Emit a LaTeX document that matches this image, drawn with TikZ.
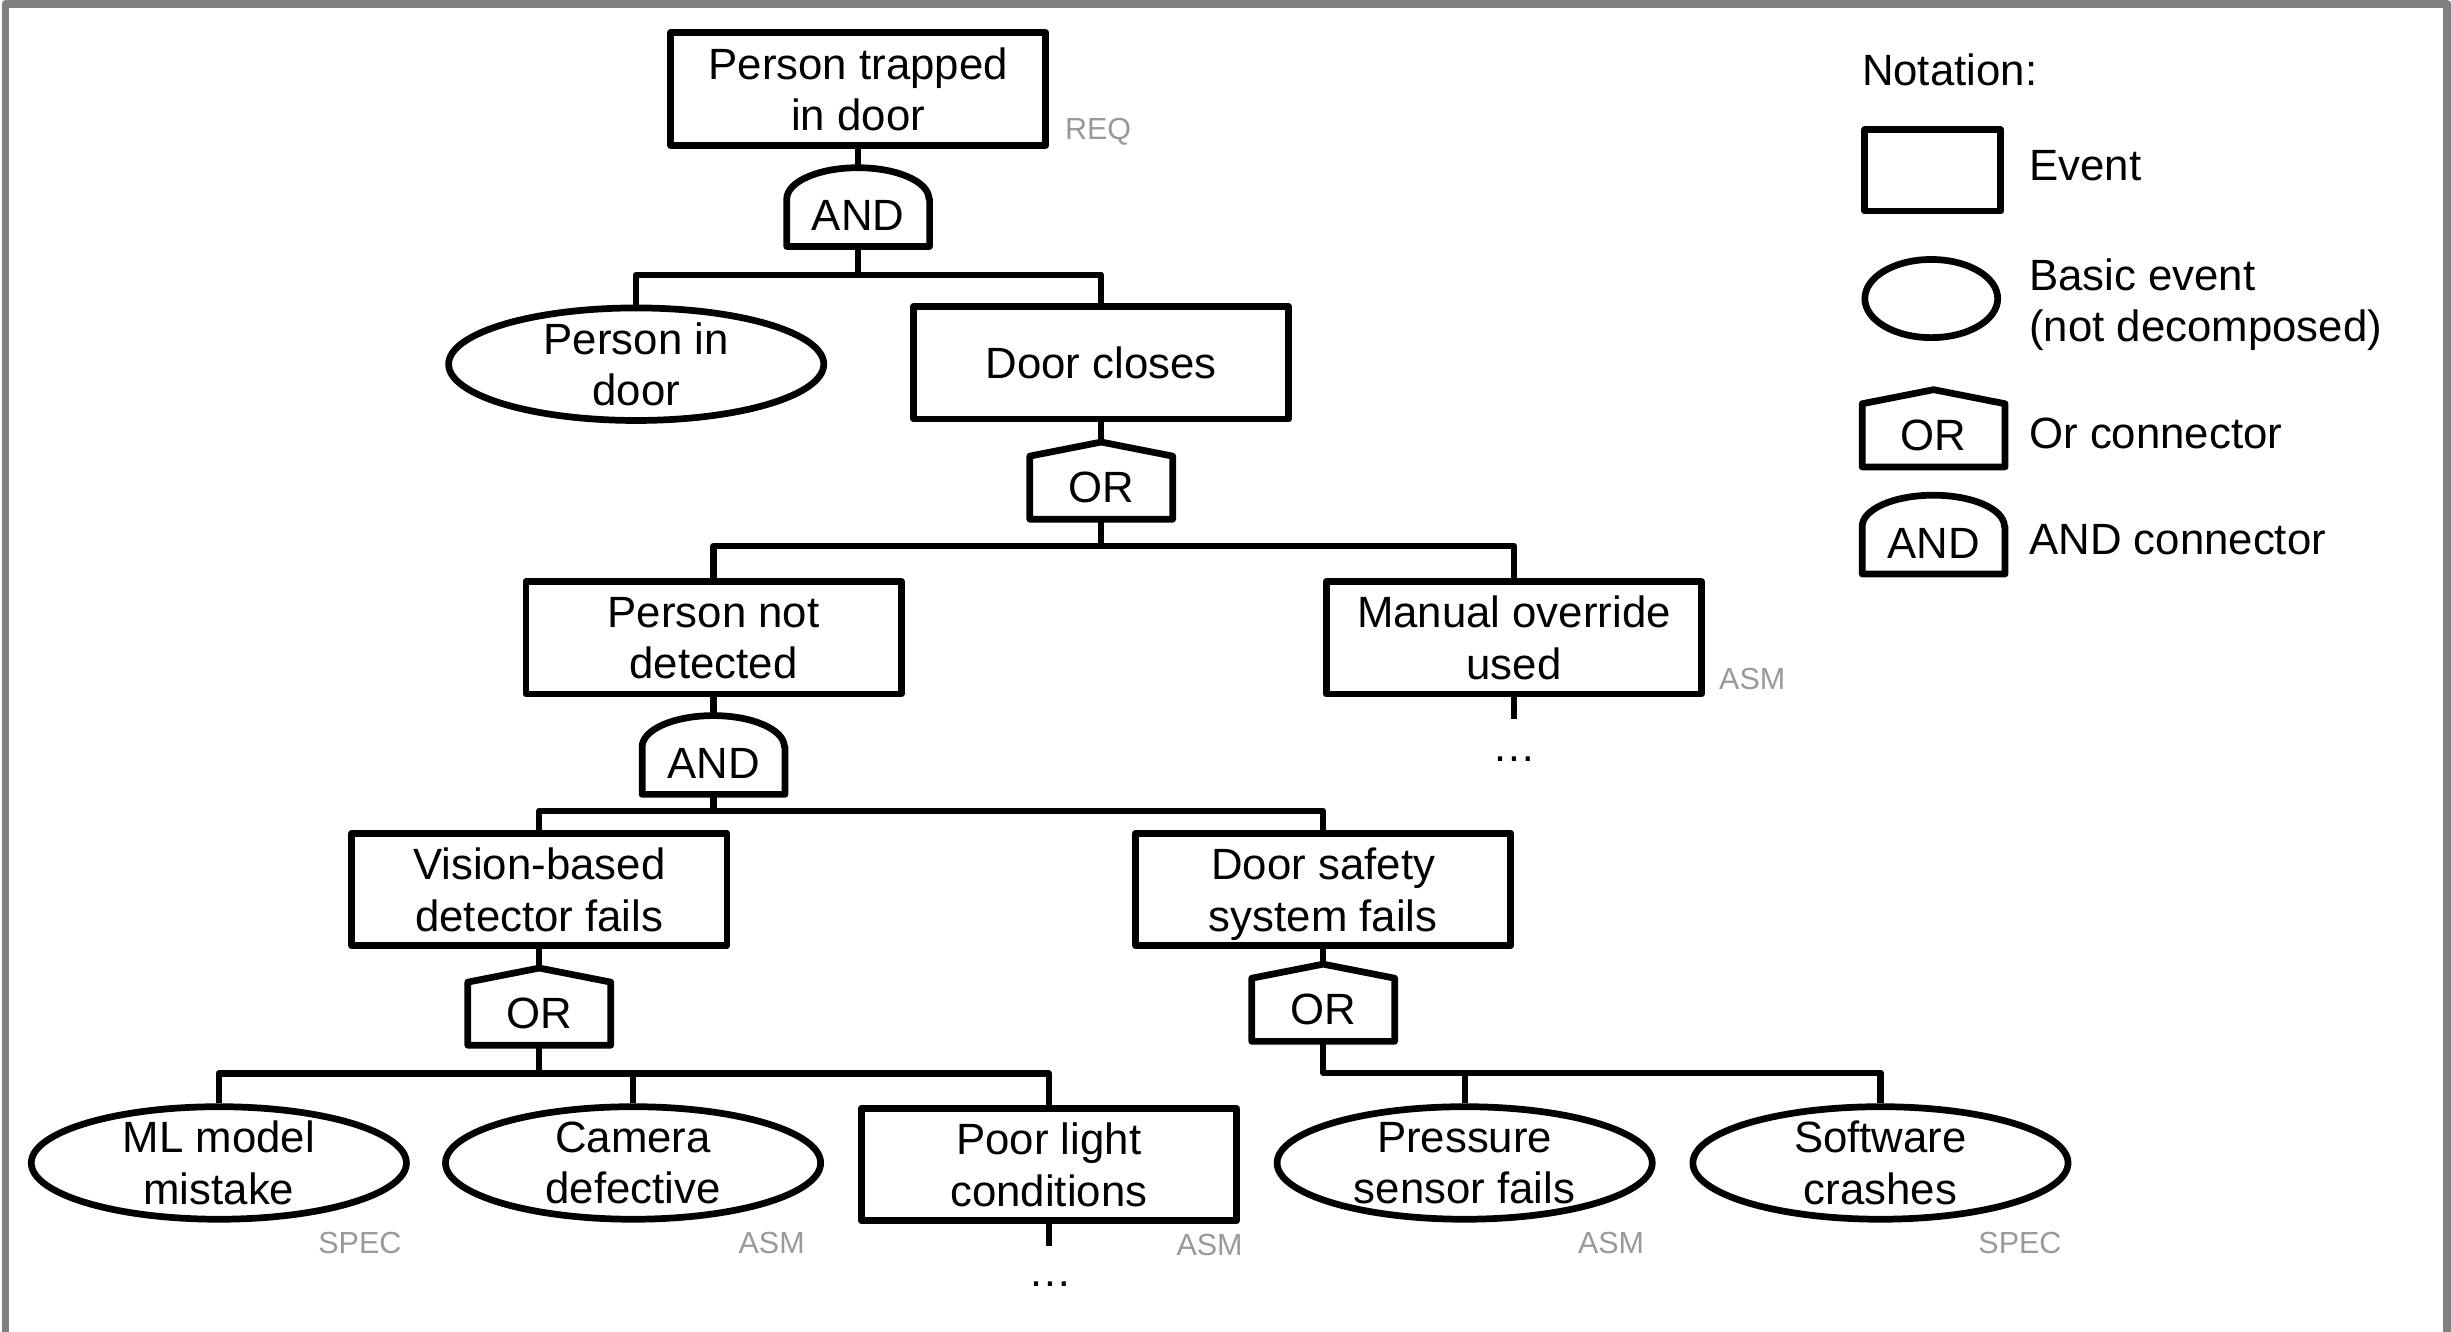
\documentclass[tikz,border=0pt]{standalone}
\usepackage{fontspec}
\setmainfont{Liberation Sans}
\usetikzlibrary{shapes.geometric}
\definecolor{framegray}{HTML}{808080}
\definecolor{taggray}{HTML}{999999}

\begin{document}
\begin{tikzpicture}[x=1pt,y=1pt,
      font=\fontsize{28}{33}\selectfont,
      line join=round,
      event/.style={draw,line width=4.3pt,rectangle,minimum width=240pt,
        minimum height=72pt,inner sep=0pt,align=center,text depth=0pt},
      basic/.style={draw,line width=4.3pt,ellipse,minimum width=240pt,
        minimum height=72pt,inner sep=-10pt,align=center},
      orgate/.style={rectangle,minimum width=91pt,minimum height=40pt,inner sep=0pt},
      andgate/.style={rectangle,minimum width=91pt,minimum height=30pt,inner sep=0pt,
        text depth=9pt},
      gateline/.style={line width=4.3pt},
      conn/.style={line width=4pt},
      tag/.style={text=taggray,font=\fontsize{19.5}{23}\selectfont,inner sep=0pt},
      keytext/.style={anchor=west,inner sep=0pt,align=left}]
      \useasboundingbox (0,0) rectangle (1568,852);
      \draw[framegray,line width=5pt] (3.5,0) -- (3.5,849.5) -- (1565.5,849.5) -- (1565.5,0);

      % tree
      \node[event] (top) at (549,795) {Person trapped\\in door};
      \node[andgate] (and1) at (549,709.5) {AND};
      \node[basic] (pid) at (407,619) {Person in\\door};
      \node[event] (dc) at (704.5,620) {Door closes};
      \node[orgate] (or1) at (704.5,540) {OR};
      \node[event] (pnd) at (456.5,444) {Person not\\detected};
      \node[event] (mou) at (968.5,444) {Manual override\\used};
      \node[andgate] (and2) at (456.5,359) {AND};
      \node[event] (vbd) at (345,283) {Vision-based\\detector fails};
      \node[event] (dss) at (846.5,283) {Door safety\\system fails};
      \node[orgate] (or2) at (345,203.5) {OR};
      \node[orgate] (or3) at (846.5,206) {OR};
      \node[basic] (ml) at (140,108) {ML model\\mistake};
      \node[basic] (cam) at (405,108) {Camera\\defective};
      \node[event] (plc) at (671,107) {Poor light\\conditions};
      \node[basic] (pse) at (937,108) {Pressure\\sensor fails};
      \node[basic] (swc) at (1203,108) {Software\\crashes};

      % tags
      \node[tag,anchor=base west] (treq) at ([shift={(10,6)}]top.south east) {REQ};
      \node[tag,anchor=base west] (tmou) at ([shift={(9,5)}]mou.south east) {ASM};
      \node[tag,anchor=base east] (tml) at ([shift={(117,-20)}]ml.south) {SPEC};
      \node[tag,anchor=base east] (tcam) at ([shift={(110,-20)}]cam.south) {ASM};
      \node[tag,anchor=base east] (tplc) at ([shift={(2,-20)}]plc.south east) {ASM};
      \node[tag,anchor=base east] (tpse) at ([shift={(115,-20)}]pse.south) {ASM};
      \node[tag,anchor=base east] (tswc) at ([shift={(116,-20)}]swc.south) {SPEC};

      % notation
      \node[anchor=base west,inner sep=0pt] (nhead) at (1191,797) {Notation:};
      \node[event,minimum width=87pt,minimum height=52pt] (kev) at (1236.5,743) {};
      \node[keytext] (lev) at (1298,746) {Event};
      \node[basic,minimum width=85pt,minimum height=50pt] (kbas) at (1235.5,661) {};
      \node[keytext] (lbas) at (1298,657) {Basic event\\(not decomposed)};
      \node[orgate] (kor) at (1237,573.5) {OR};
      \node[keytext] (lor) at (1298,575) {Or connector};
      \node[andgate] (kand) at (1237,500) {AND};
      \node[keytext] (land) at (1298,507) {AND connector};

      % gates
      \foreach \g in {or1,or2,or3,kor}
        \draw[gateline] (\g.south west) -- (\g.north west) -- ([yshift=9]\g.north)
          -- (\g.north east) -- (\g.south east) -- cycle;
      \foreach \g in {and1,and2,kand}
        \draw[gateline] (\g.north east) -- (\g.south east) -- (\g.south west) -- (\g.north west)
          arc[start angle=180,end angle=0,x radius=45.5,y radius=20] -- cycle;

      % connectors
      \draw[conn] (top.south) -- ([yshift=20]and1.north);
      \draw[conn] (and1.south) -- ++(0,-18) coordinate (b1) -| (pid.north);
      \draw[conn] (b1) -| (dc.north);
      \draw[conn] (dc.south) -- ([yshift=9]or1.north);
      \draw[conn] (or1.south) -- ++(0,-17) coordinate (b2) -| (pnd.north);
      \draw[conn] (b2) -| (mou.north);
      \draw[conn] (pnd.south) -- ([yshift=20]and2.north);
      \draw[conn] (and2.south) -- ++(0,-10.5) coordinate (b3) -| (vbd.north);
      \draw[conn] (b3) -| (dss.north);
      \draw[conn] (vbd.south) -- ([yshift=9]or2.north);
      \draw[conn] (dss.south) -- ([yshift=9]or3.north);
      \draw[conn] (or2.south) -- ++(0,-18) coordinate (b4) -| (ml.north);
      \draw[conn] (b4) -| (cam.north);
      \draw[conn] (b4) -| (plc.north);
      \draw[conn] (or3.south) -- ++(0,-20) coordinate (b5) -| (pse.north);
      \draw[conn] (b5) -| (swc.north);

      % not decomposed further
      \draw[conn] (mou.south) -- ++(0,-14);
      \node[anchor=base] (mdots) at (968.5,365) {…};
      \draw[conn] (plc.south) -- ++(0,-14);
      \node[anchor=base] (pdots) at (672,29) {…};
\end{tikzpicture}
\end{document}
